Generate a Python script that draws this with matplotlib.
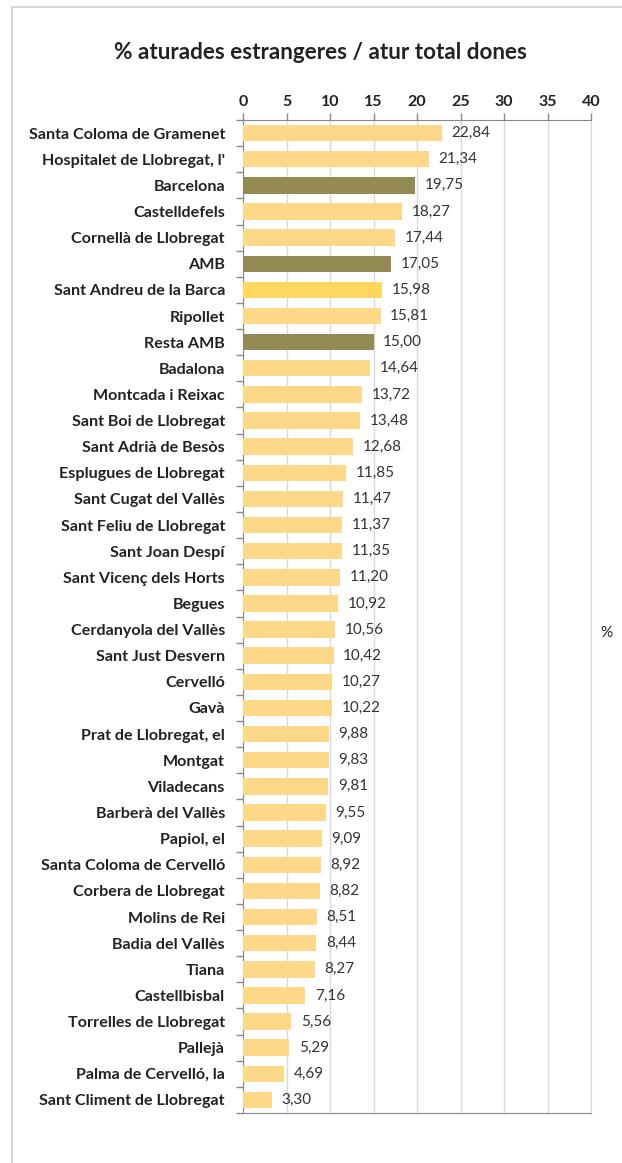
import matplotlib
matplotlib.use("Agg")
import matplotlib.pyplot as plt
from matplotlib.patches import Rectangle
import numpy as np

plt.rcParams['font.family'] = ['Lato', 'DejaVu Sans']

# data
municipis = [
    "Santa Coloma de Gramenet", "Hospitalet de Llobregat, l'", "Barcelona",
    "Castelldefels", "Cornellà de Llobregat", "AMB", "Sant Andreu de la Barca",
    "Ripollet", "Resta AMB", "Badalona", "Montcada i Reixac",
    "Sant Boi de Llobregat", "Sant Adrià de Besòs", "Esplugues de Llobregat",
    "Sant Cugat del Vallès", "Sant Feliu de Llobregat", "Sant Joan Despí",
    "Sant Vicenç dels Horts", "Begues", "Cerdanyola del Vallès",
    "Sant Just Desvern", "Cervelló", "Gavà", "Prat de Llobregat, el",
    "Montgat", "Viladecans", "Barberà del Vallès", "Papiol, el",
    "Santa Coloma de Cervelló", "Corbera de Llobregat", "Molins de Rei",
    "Badia del Vallès", "Tiana", "Castellbisbal", "Torrelles de Llobregat",
    "Pallejà", "Palma de Cervelló, la", "Sant Climent de Llobregat",
]
valors = [
    22.84, 21.34, 19.75, 18.27, 17.44, 17.05, 15.98, 15.81, 15.00, 14.64,
    13.72, 13.48, 12.68, 11.85, 11.47, 11.37, 11.35, 11.20, 10.92, 10.56,
    10.42, 10.27, 10.22, 9.88, 9.83, 9.81, 9.55, 9.09, 8.92, 8.82,
    8.51, 8.44, 8.27, 7.16, 5.56, 5.29, 4.69, 3.30,
]
agregats = ["Barcelona", "AMB", "Resta AMB"]
destacat = "Sant Andreu de la Barca"
x_ticks = [0, 5, 10, 15, 20, 25, 30, 35, 40]

colors = []
for m in municipis:
    if m in agregats:
        colors.append("#948A54")
    elif m == destacat:
        colors.append("#FFD75E")
    else:
        colors.append("#FCD888")

fig = plt.figure(figsize=(6.22, 11.63), dpi=100)
ax = fig.add_axes([0.3907, 0.043, 0.5595, 0.8538])

y = np.arange(len(municipis))
ax.barh(y, valors, height=0.63, color=colors, zorder=3)

for yi, v in zip(y, valors):
    ax.text(v + 1.1, yi, f"{v:.2f}".replace(".", ","), va="center", ha="left",
            fontsize=11, color="#333333", zorder=4)

ax.set_ylim(len(municipis) - 0.5, -0.5)
ax.set_xlim(0, 40)
ax.set_yticks(y)
ax.set_yticklabels(municipis, fontsize=11.6, fontweight="bold", color="#222222")
ax.set_yticks(np.arange(-0.5, len(municipis), 1), minor=True)
ax.tick_params(axis="y", which="major", length=0, pad=13)
ax.tick_params(axis="y", which="minor", length=5, color="#888888", width=1)

ax.xaxis.tick_top()
ax.set_xticks(x_ticks)
ax.set_xticklabels([str(t) for t in x_ticks], fontsize=11.5, fontweight="bold",
                   color="#222222")
ax.tick_params(axis="x", length=5, color="#888888", width=1, pad=3)
ax.grid(axis="x", color="#D9D9D9", linewidth=1, zorder=0)

for side in ["left", "top", "bottom"]:
    ax.spines[side].set_color("#888888")
ax.spines["right"].set_color("#D9D9D9")

fig.text(0.5145, 0.955, "% aturades estrangeres / atur total dones",
         ha="center", va="center", fontsize=16.2, fontweight="bold",
         color="#222222")
fig.text(0.975, 0.456, "%", ha="center", va="center", fontsize=11,
         color="#222222")

# chart frame
fig.patches.append(Rectangle((12 / 622, -0.1), 1.2, 1 - 7 / 1163 + 0.1,
                             transform=fig.transFigure, fill=False,
                             edgecolor="#D0D0D0", linewidth=1.2))

fig.savefig("out.png", dpi=100)
